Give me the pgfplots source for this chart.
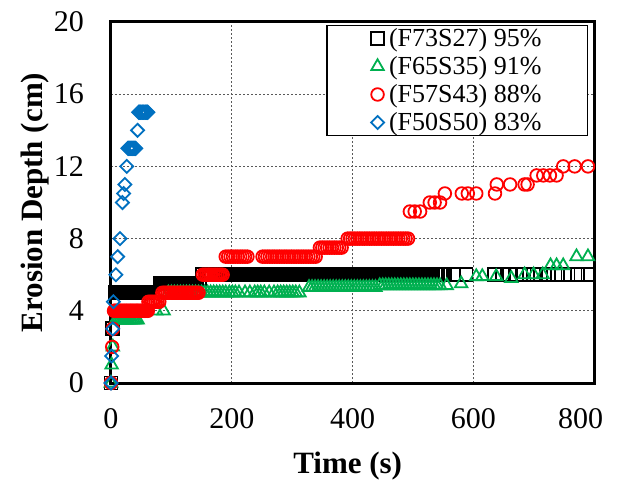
\documentclass[border=0pt]{standalone}
\usepackage{fontspec}
\setmainfont{Liberation Serif}
\usepackage{pgfplots}
\pgfplotsset{compat=1.18}
\definecolor{sqc}{RGB}{0,0,0}
\definecolor{tric}{RGB}{0,176,80}
\definecolor{circ}{RGB}{255,0,0}
\definecolor{diac}{RGB}{0,112,192}

\begin{document}
\begin{tikzpicture}
\path[use as bounding box] (-111pt,-99pt) rectangle (506pt,383pt);
\begin{axis}[
  scale only axis, width=483pt, height=361pt,
  xmin=0, xmax=800, ymin=0, ymax=20,
  xtick={0,200,400,600,800}, ytick={0,4,8,12,16,20},
  xticklabels={0,200,400,600,800\hspace*{27pt}},
  major tick length=0pt,
  grid=major,
  major grid style={black!65, line width=1pt, dash pattern=on 2pt off 2pt},
  axis line style={line width=3pt},
  /pgf/number format/assume math mode=true,
  tick label style={font=\fontsize{30}{30}\selectfont, inner sep=0pt},
  xticklabel shift=25pt, yticklabel shift=27pt,
  xlabel={Time (s)}, ylabel={Erosion Depth (cm)},
  label style={font=\fontsize{31}{31}\selectfont\bfseries},
  xlabel style={at={(axis description cs:0.49,-0.23)}, anchor=center},
  ylabel style={at={(axis description cs:-0.157,0.5)}, anchor=center},
  clip=false,
  legend style={at={(rel axis cs:0.988,0.992)}, anchor=north east,
    font=\fontsize{26}{27}\selectfont, draw=black, line width=1.5pt,
    inner xsep=44pt, inner ysep=1pt, row sep=4.5pt, column sep=3pt},
  legend cell align=left,
]
% F73S27
\addplot[only marks, mark=square, mark size=6.5pt, line width=1.8pt, sqc] coordinates {
(0,0)(2,3)
(8,5)(11,5)(14,5)(17,5)(20,5)(23,5)(26,5)(29,5)(32,5)(35,5)(38,5)(41,5)(44,5)(47,5)(50,5)(53,5)(56,5)(59,5)(62,5)
(82,5.5)(85,5.5)(88,5.5)(91,5.5)(94,5.5)(97,5.5)(100,5.5)(103,5.5)(106,5.5)(109,5.5)(112,5.5)(115,5.5)(118,5.5)(121,5.5)(124,5.5)(127,5.5)(130,5.5)(133,5.5)(136,5.5)(139,5.5)(142,5.5)(146,5.5)
(152,6)(156,6)(160,6)(163,6)(167,6)(171,6)(175,6)(178,6)(182,6)(186,6)(190,6)(193,6)(197,6)(201,6)(205,6)(209,6)(212,6)(216,6)(220,6)(224,6)
(228,6)(231,6)(235,6)(239,6)(243,6)(247,6)(250,6)(254,6)(258,6)(262,6)(266,6)(270,6)(273,6)(277,6)(281,6)(285,6)(289,6)(292,6)(296,6)(300,6)
(304,6)(308,6)(312,6)(315,6)(319,6)(323,6)(327,6)(331,6)(334,6)(338,6)(342,6)(346,6)(350,6)(354,6)(357,6)(361,6)(365,6)(369,6)(373,6)(376,6)
(380,6)(384,6)(388,6)(392,6)(396,6)(399,6)(403,6)(407,6)(411,6)(415,6)(418,6)(422,6)(426,6)(430,6)(434,6)(438,6)(441,6)(445,6)(449,6)(453,6)
(457,6)(460,6)(464,6)(468,6)(472,6)(476,6)(480,6)(483,6)(487,6)(491,6)(495,6)(499,6)(502,6)(506,6)(510,6)(514,6)(518,6)(522,6)(525,6)(529,6)
(533,6)(537,6)(541,6)(545,6)(549,6)(553,6)
(568,6)(588,6)(635,6)(648,6)(660,6)(672,6)(684,6)(700,6)(712,6)(725,6)(740,6)(757,6)(773,6)(790,6)
};
\addlegendentry{(F73S27) 95\%}
% F65S35
\addplot[only marks, mark=triangle, mark size=7.2pt, line width=1.8pt, tric] coordinates {
(0,0)(1,1)(3,2)
(8,3.5)(11,3.5)(14,3.5)(17,3.5)(20,3.5)(23,3.5)(26,3.5)(29,3.5)(32,3.5)(35,3.5)(38,3.5)(41,3.5)(44,3.5)
(75,4)(87,4)
(95,5)(100,5)(105,5)(110,5)(115,5)(120,5)(125,5)(130,5)(135,5)(140,5)(145,5)(150,5)(155,5)(160,5)(165,5)(170,5)(175,5)(180,5)(185,5)(190,5)
(196,5)(201,5)(206,5)(212,5)(222,5)(230,5)(238,5)(243,5)(248,5)(254,5)(262,5)(270,5)(276,5)(281,5)(286,5)(291,5)(296,5)(301,5)(306,5)(312,5)
(328,5.3)(333,5.3)(338,5.3)(343,5.3)(348,5.3)(353,5.3)(358,5.3)(363,5.3)(368,5.3)(373,5.3)(378,5.3)(383,5.3)(388,5.3)(393,5.3)(398,5.3)(403,5.3)
(408,5.3)(413,5.3)(418,5.3)(423,5.3)(428,5.3)(433,5.3)(438,5.3)
(445,5.4)(450,5.4)(455,5.4)(460,5.4)(465,5.4)(470,5.4)(475,5.4)(480,5.4)(485,5.4)(490,5.4)(495,5.4)(500,5.4)(505,5.4)(510,5.4)(515,5.4)(520,5.4)
(525,5.4)(530,5.4)(535,5.4)(540,5.4)(545,5.4)
(556,5.4)(580,5.5)(605,5.9)(615,5.9)(638,5.9)(663,5.8)(685,6)(700,6)(715,6)(728,6.5)(738,6.5)(749,6.5)(771,7)(790,7)
};
\addlegendentry{(F65S35) 91\%}
% F57S43
\addplot[only marks, mark=o, mark size=6.3pt, line width=1.8pt, circ] coordinates {
(0,0)(2,2)(3,3)
(5,4)(7,4)(9,4)(11,4)(13,4)(15,4)(17,4)(19,4)(21,4)(23,4)(25,4)(27,4)(29,4)(31,4)(33,4)(35,4)(37,4)(39,4)(41,4)(43,4)
(45,4)(47,4)(49,4)(51,4)(53,4)(55,4)(57,4)(59,4)(61,4)
(62,4.5)(65,4.5)(68,4.5)(71,4.5)(74,4.5)(77,4.5)(80,4.5)
(85,5)(88,5)(91,5)(94,5)(97,5)(100,5)(103,5)(106,5)(109,5)(112,5)(115,5)(118,5)(121,5)(124,5)(127,5)(130,5)(133,5)(136,5)(139,5)(142,5)(145,5)
(152,6)(155,6)(158,6)(161,6)(164,6)(167,6)(170,6)(173,6)(176,6)(179,6)(182,6)(185,6)
(190,7)(194,7)(198,7)(202,7)(206,7)(210,7)(214,7)(218,7)(222,7)(226,7)
(251,7)(255,7)(259,7)(263,7)(267,7)(271,7)(275,7)(279,7)(283,7)(287,7)(291,7)(295,7)(299,7)(303,7)(307,7)(311,7)(315,7)(319,7)(323,7)(327,7)
(331,7)(335,7)(339,7)
(346,7.5)(350,7.5)(354,7.5)(358,7.5)(362,7.5)(366,7.5)(370,7.5)(374,7.5)(378,7.5)(382,7.5)
(392,8)(396,8)(400,8)(404,8)(408,8)(412,8)(416,8)(420,8)(424,8)(428,8)(432,8)(436,8)(440,8)(444,8)(448,8)(452,8)(456,8)(460,8)(464,8)(468,8)
(472,8)(476,8)(480,8)(484,8)(488,8)(492,8)
(495,9.5)(503,9.5)(512,9.5)(528,10)(536,10)(545,10)
(553,10.5)(581,10.5)(591,10.5)(605,10.5)(636,10.5)(639,11)(661,11)(685,11)(690,11)
(705,11.5)(716,11.5)(727,11.5)(738,11.5)(749,12)(768,12)(790,12)
};
\addlegendentry{(F57S43) 88\%}
% F50S50
\addplot[only marks, mark=square, mark size=4.6pt, line width=1.8pt, diac, mark options={rotate=45}] coordinates {
(0,0)(1,1.5)(3,3)(4,4.5)(8,6)(11,7)(15,8)(19,10)(21,10.5)(23,11)(26,12)
(28,13)(29,13)(30,13)(31,13)(32,13)(33,13)(34,13)(35,13)(36,13)(37,13)(38,13)(39,13)(40,13)(41,13)
(44,14)
(46,15)(47,15)(48,15)(49,15)(50,15)(51,15)(52,15)(53,15)(54,15)(55,15)(56,15)(57,15)(58,15)(59,15)(60,15)(61,15)
};
\addlegendentry{(F50S50) 83\%}
\end{axis}
\end{tikzpicture}
\end{document}
